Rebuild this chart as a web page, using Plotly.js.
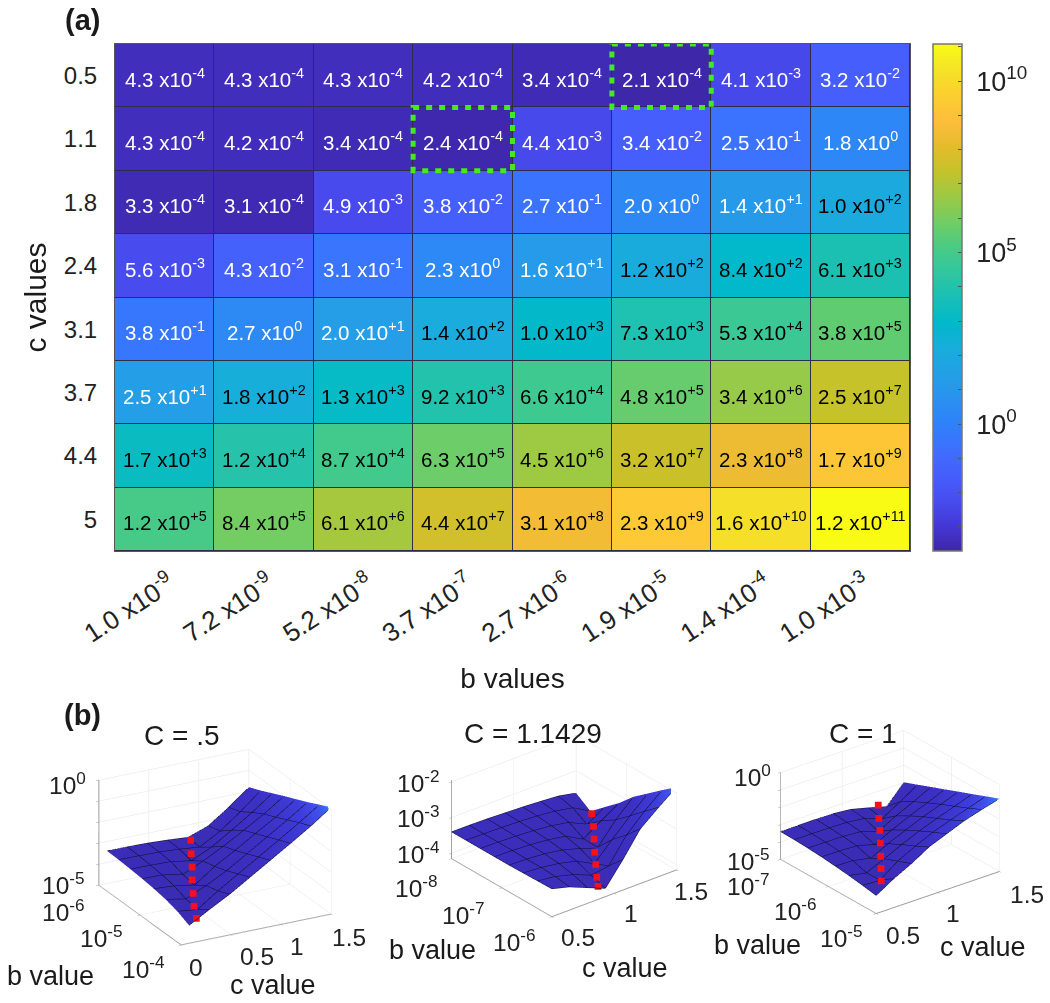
<!DOCTYPE html>
<html>
<head>
<meta charset="utf-8">
<script src="https://cdn.plot.ly/plotly-3.0.1.min.js"></script>
<style>html,body{margin:0;padding:0;background:#fff}</style>
</head>
<body>
<div id="chart" style="width:1050px;height:1003px"></div>
<script>
// Panel (a)
const cValues = ['0.5','1.1','1.8','2.4','3.1','3.7','4.4','5'];
const bTickLabels = ['1.0 x10<sup>-9</sup>','7.2 x10<sup>-9</sup>','5.2 x10<sup>-8</sup>','3.7 x10<sup>-7</sup>','2.7 x10<sup>-6</sup>','1.9 x10<sup>-5</sup>','1.4 x10<sup>-4</sup>','1.0 x10<sup>-3</sup>'];
const mantissas = [
 [4.3,4.3,4.3,4.2,3.4,2.1,4.1,3.2],
 [4.3,4.2,3.4,2.4,4.4,3.4,2.5,1.8],
 [3.3,3.1,4.9,3.8,2.7,2.0,1.4,1.0],
 [5.6,4.3,3.1,2.3,1.6,1.2,8.4,6.1],
 [3.8,2.7,2.0,1.4,1.0,7.3,5.3,3.8],
 [2.5,1.8,1.3,9.2,6.6,4.8,3.4,2.5],
 [1.7,1.2,8.7,6.3,4.5,3.2,2.3,1.7],
 [1.2,8.4,6.1,4.4,3.1,2.3,1.6,1.2]];
const exponents = [
 [-4,-4,-4,-4,-4,-4,-3,-2],
 [-4,-4,-4,-4,-3,-2,-1,0],
 [-4,-4,-3,-2,-1,0,1,2],
 [-3,-2,-1,0,1,2,2,3],
 [-1,0,1,2,3,3,4,5],
 [1,2,3,3,4,5,6,7],
 [3,4,4,5,6,7,8,9],
 [5,5,6,7,8,9,10,11]];
const highlighted = [[3,1],[5,0]];
const cbTicks = [-3,-2,-1,0,1,2,3,4,5,6,7,8,9,10,11];
const cbLabelled = [0,5,10];

// Panel (b): log10 of the surface heights, rows run from smallest b to largest b
const p1c = [0.08,0.28,0.49,0.69,0.89,1.09,1.3,1.5];
const p1b = [6,5.71,5.43,5.14,4.86,4.57,4.29,4];
const p1z = [
 [-3.44,-3.45,-3.47,-3.52,-3.59,-3.25,-2.55,-1.80],
 [-3.46,-3.47,-3.49,-3.55,-3.65,-3.10,-2.35,-1.55],
 [-3.50,-3.51,-3.54,-3.70,-3.25,-2.65,-1.98,-1.28],
 [-3.55,-3.57,-3.74,-3.30,-2.80,-2.25,-1.65,-1.00],
 [-3.62,-3.68,-3.85,-3.15,-2.60,-2.00,-1.40,-0.75],
 [-3.72,-3.90,-3.45,-2.95,-2.35,-1.75,-1.12,-0.48],
 [-3.88,-4.00,-3.30,-2.70,-2.10,-1.50,-0.85,-0.20],
 [-4.15,-3.60,-3.05,-2.45,-1.85,-1.25,-0.60,0.08]];
const p1mc = [0.153,0.129,0.12,0.11,0.11,0.10,0.096];
const p1mb = [4,4,4,4,4,4,4];
const p1mz = [-3.88,-3.28,-2.66,-2.0,-1.39,-0.75,-0.1];

const p2c = [0.5,0.64,0.79,0.93,1.07,1.21,1.36,1.5];
const p2b = [8,7.71,7.43,7.14,6.86,6.57,6.29,6];
const p2z = [
 [-3.40,-3.40,-3.41,-3.43,-3.45,-3.48,-3.52,-3.62],
 [-3.40,-3.41,-3.42,-3.44,-3.47,-3.52,-3.62,-3.90],
 [-3.40,-3.41,-3.43,-3.46,-3.51,-3.60,-3.85,-3.55],
 [-3.40,-3.41,-3.44,-3.49,-3.57,-3.84,-3.50,-3.20],
 [-3.40,-3.42,-3.46,-3.54,-3.68,-3.86,-3.25,-2.80],
 [-3.39,-3.42,-3.50,-3.62,-3.88,-3.40,-2.90,-2.47],
 [-3.38,-3.44,-3.58,-3.78,-3.72,-3.05,-2.55,-2.15],
 [-3.37,-3.50,-3.72,-3.92,-3.30,-2.62,-2.20,-1.83]];
const p2mc = [0.87,0.88,0.892,0.904,0.919,0.934,0.94];
const p2mb = [6,6.05,6.1,6.15,6.2,6.25,6.3];
const p2mz = [-3.78,-3.58,-3.28,-2.99,-2.68,-2.39,-2.08];

const p3c = [0.5,0.64,0.79,0.93,1.07,1.21,1.36,1.5];
const p3b = [7,6.71,6.43,6.14,5.86,5.57,5.29,5];
const p3z = [
 [-3.40,-3.39,-3.38,-3.40,-3.50,-3.75,-4.05,-2.98],
 [-3.42,-3.42,-3.43,-3.46,-3.58,-3.95,-3.30,-2.67],
 [-3.46,-3.46,-3.48,-3.55,-3.90,-3.35,-2.85,-2.36],
 [-3.52,-3.53,-3.58,-3.85,-3.35,-2.90,-2.47,-2.05],
 [-3.60,-3.63,-3.85,-3.35,-2.92,-2.50,-2.12,-1.74],
 [-3.70,-3.90,-3.42,-2.95,-2.52,-2.15,-1.78,-1.43],
 [-3.82,-3.88,-3.10,-2.60,-2.15,-1.80,-1.45,-1.12],
 [-3.96,-3.35,-2.80,-2.20,-1.80,-1.40,-1.08,-0.81]];
const p3mc = [0.54,0.577,0.614,0.65,0.684,0.715,0.749];
const p3mb = [5,5.1,5.2,5.3,5.4,5.5,5.6];
const p3mz = [-3.21,-2.74,-2.28,-1.76,-1.28,-0.81,-0.29];

const W = 1050, H = 1003, FONT = 'Liberation Sans, Arial, sans-serif';
const px = x => x / W, py = y => 1 - y / H;
const ZMIN = -3.7, ZMAX = 11.08;

const parulaRGB = [
 [0.2422,0.1504,0.6603],[0.2706,0.2147,0.8364],[0.2813,0.3006,0.9414],[0.2760,0.3667,0.9829],
 [0.2440,0.4358,0.9988],[0.1834,0.5074,0.9798],[0.1687,0.5703,0.9359],[0.1380,0.6276,0.8973],
 [0.0952,0.6798,0.8598],[0.0036,0.7203,0.7917],[0.0964,0.7500,0.7120],[0.1938,0.7758,0.6251],
 [0.2906,0.7973,0.5188],[0.4456,0.8024,0.3909],[0.6174,0.7876,0.2612],[0.7738,0.7598,0.1646],
 [0.9035,0.7330,0.1774],[0.9956,0.7434,0.2371],[0.9892,0.8136,0.1885],[0.9610,0.8890,0.1537],
 [0.9769,0.9839,0.0805]];
const parula = parulaRGB.map((c,i)=>[i/(parulaRGB.length-1),`rgb(${c.map(v=>Math.round(v*255)).join(',')})`]);
const surfaceScale = [[0,'#3a2bb0'],[0.55,'#3c30c4'],[0.8,'#3e3cd8'],[0.92,'#4250ee'],[1,'#2a80f5']];

const logZ = mantissas.map((r,i)=>r.map((m,j)=>Math.log10(m)+exponents[i][j]));
const expText = e => e>0 ? '+'+e : String(e);

const traces = [{
  type:'heatmap', x:bTickLabels, y:cValues, z:logZ, zmin:ZMIN, zmax:ZMAX,
  colorscale:parula, xgap:1, ygap:1, hoverinfo:'skip',
  colorbar:{x:px(933),xanchor:'left',y:py(44),yanchor:'top',xpad:0,ypad:0,
    thickness:29,thicknessmode:'pixels',len:507,lenmode:'pixels',
    outlinecolor:'#777',outlinewidth:1.5,
    tickmode:'array',tickvals:cbTicks,ticktext:cbTicks.map(v=>cbLabelled.includes(v)?`\u00a010<sup>${v}</sup>`:''),
    ticks:'inside',ticklen:4,tickcolor:'#555',tickfont:{family:FONT,size:27,color:'#222'}}
}];

const annotations = [];
mantissas.forEach((r,i)=>r.forEach((m,j)=>annotations.push({
  x:j,y:i,xref:'x',yref:'y',showarrow:false,yshift:-2,
  text:`${m.toFixed(1)} x10<sup>${expText(exponents[i][j])}</sup>`,
  font:{family:FONT,size:20.5,color:exponents[i][j]>=2?'#000':'#fff'}
})));
function label(text,x,y,size,bold){annotations.push({xref:'paper',yref:'paper',x:px(x),y:py(y),showarrow:false,
  xanchor:'center',yanchor:'middle',text:bold?`<b>${text}</b>`:text,font:{family:FONT,size:size,color:'#1a1a1a'}});}
label('(a)',82,20,29,true);
label('(b)',82,715,29,true);
label('C = .5',181,735,28);
label('C = 1.1429',533,733,28);
label('C = 1',863,733,28);
label('b value',50,976,27);label('c value',273,985,27);
label('b value',432,950,27);label('c value',625,968,27);
label('b value',757,945,27);label('c value',983,947,27);

const shapes = highlighted.map(([c,r])=>({type:'rect',xref:'x',yref:'y',x0:c-0.5,x1:c+0.5,y0:r-0.5,y1:r+0.5,
  line:{color:'#46e81e',width:5,dash:'6px,7px'}}));

function axis3d(tickvals,range){
  return {range:range,tickvals:tickvals,tickmode:'array',title:{text:''},showticklabels:false,
    showbackground:false,showgrid:true,gridcolor:'#e4e4e4',gridwidth:1,zeroline:false,
    showline:true,linecolor:'#9a9a9a',linewidth:2,ticks:'outside',ticklen:3,tickcolor:'#999',
    showspikes:false};
}
function addPanel(n,c,b,z,mc,mb,mz){
  traces.push({type:'surface',scene:n,x:c,y:b,z:z,surfacecolor:z,cmin:-4.15,cmax:z[7][7],colorscale:surfaceScale,
    showscale:false,hoverinfo:'skip',
    lighting:{ambient:1,diffuse:0,specular:0,fresnel:0,roughness:1},
    contours:{
      x:{show:true,start:c[0],end:c[7],size:(c[7]-c[0])/7,color:'#0a0a28',width:3,highlight:false},
      y:{show:true,start:b[7],end:b[0],size:(b[0]-b[7])/7,color:'#0a0a28',width:3,highlight:false},
      z:{highlight:false}}});
  traces.push({type:'scatter3d',scene:n,mode:'markers',x:mc,y:mb,z:mz,hoverinfo:'skip',
    marker:{symbol:'square',size:3.5,color:'#f5101c',line:{width:0}}});
}
addPanel('scene',p1c,p1b,p1z,p1mc,p1mb,p1mz);
addPanel('scene2',p2c,p2b,p2z,p2mc,p2mb,p2mz);
addPanel('scene3',p3c,p3b,p3z,p3mc,p3mb,p3mz);

const tl = (x,y,z,text,dx,dy)=>({x:x,y:y,z:z,text:text,showarrow:false,xshift:dx,yshift:-dy,
  font:{family:FONT,size:24.5,color:'#222'}});
function scene(cx,cy,half,eye,centerZ,asp,cT,cR,bT,bR,zT,zR,labels){
  return {domain:{x:[px(cx-half),px(cx+half)],y:[py(cy+half),py(cy-half)]},
    aspectmode:'manual',aspectratio:{x:asp[0],y:asp[1],z:asp[2]},
    camera:{projection:{type:'orthographic'},eye:{x:eye[0],y:eye[1],z:eye[2]+centerZ},center:{x:0,y:0,z:centerZ},up:{x:0,y:0,z:1}},
    bgcolor:'rgba(0,0,0,0)',dragmode:false,
    xaxis:axis3d(cT,cR),yaxis:axis3d(bT,bR),zaxis:axis3d(zT,zR),annotations:labels};
}
const D = 1.9;
const layout = {
  width:W,height:H,margin:{l:0,r:0,t:0,b:0},paper_bgcolor:'#fff',plot_bgcolor:'#2e2e4a',showlegend:false,
  xaxis:{domain:[px(115),px(910)],range:[-0.5,7.5],type:'category',tickmode:'array',tickvals:bTickLabels,ticktext:bTickLabels,
    tickangle:-33,ticks:'',ticklabelstandoff:7,ticklabelshift:5,
    tickfont:{family:FONT,size:26,color:'#222'},showgrid:false,zeroline:false,showline:true,linecolor:'#555',mirror:true,
    title:{text:'b values',font:{family:FONT,size:28,color:'#1a1a1a'},standoff:21}},
  yaxis:{domain:[py(551),py(44)],range:[7.5,-0.5],type:'category',tickmode:'array',tickvals:cValues,ticktext:cValues,
    ticks:'',ticklabelstandoff:12,tickfont:{family:FONT,size:24,color:'#222'},showgrid:false,zeroline:false,showline:true,linecolor:'#555',mirror:true,
    title:{text:'c values',font:{family:FONT,size:30,color:'#1a1a1a'},standoff:8}},
  annotations:annotations,shapes:shapes,
  scene:scene(215,833,170,[-.433*D,-.814*D,.386*D],0.09,[1,1.03,.67],[0,.5,1,1.5],[0,1.5],[4,5,6],[4,6],[-5,-4,-3,-2,-1,0],[-5,0],[
    tl(0,6,0,'10<sup>0</sup>',-31,3),tl(0,6,-5,'10<sup>-5</sup>',-35,-2),
    tl(0,6,-5,'10<sup>-6</sup>',-35,25),tl(0,5,-5,'10<sup>-5</sup>',-38,21),tl(0,4,-5,'10<sup>-4</sup>',-38,23),
    tl(0,4,-5,'0',15,23),tl(.5,4,-5,'0.5',26,22),tl(1,4,-5,'1',16,22),tl(1.5,4,-5,'1.5',18,23)]),
  scene2:scene(563.5,825,160,[-.555*D,-.689*D,.466*D],0,[1,1,.555],[.5,1,1.5],[.5,1.5],[6,7,8],[6,8],[-4,-3,-2],[-4.15,-1.95],[
    tl(.5,8,-2,'10<sup>-2</sup>',-33,0),tl(.5,8,-3,'10<sup>-3</sup>',-33,-1),tl(.5,8,-4,'10<sup>-4</sup>',-33,-1),
    tl(.5,8,-4.15,'10<sup>-8</sup>',-35,28),tl(.5,7,-4.15,'10<sup>-7</sup>',-38,26),tl(.5,6,-4.15,'10<sup>-6</sup>',-37,24),
    tl(.5,6,-4.15,'0.5',27,21),tl(1,6,-4.15,'1',17,20),tl(1.5,6,-4.15,'1.5',15,22)]),
  scene3:scene(890,822,156,[-.551*D,-.710*D,.44*D],0,[1,1,.62],[.5,1,1.5],[.5,1.5],[5,6,7],[5,7],[-5,-4,-3,-2,-1,0],[-5,0],[
    tl(.5,7,0,'10<sup>0</sup>',-28,3),tl(.5,7,-5,'10<sup>-5</sup>',-32,0),
    tl(.5,7,-5,'10<sup>-7</sup>',-32,25),tl(.5,6,-5,'10<sup>-6</sup>',-33,23),tl(.5,5,-5,'10<sup>-5</sup>',-35,23),
    tl(.5,5,-5,'0.5',27,22),tl(1,5,-5,'1',15,21),tl(1.5,5,-5,'1.5',28,23)])
};
Plotly.newPlot('chart',traces,layout,{displayModeBar:false});
</script>
</body>
</html>
